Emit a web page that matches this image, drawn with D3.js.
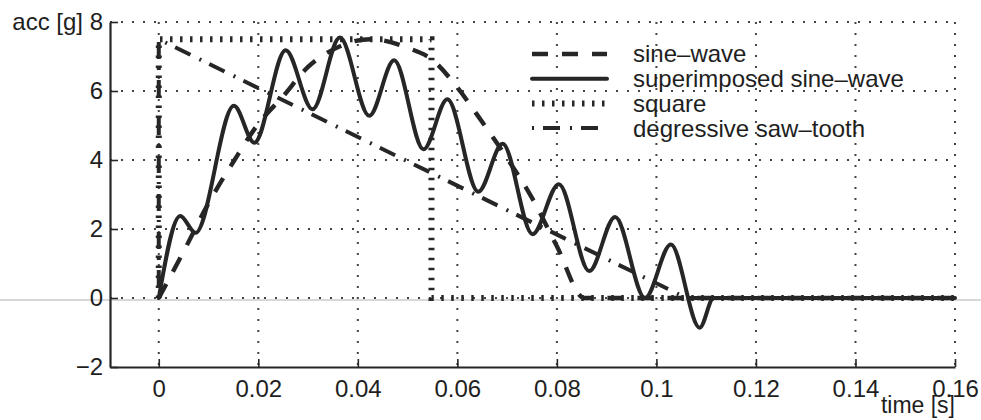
<!DOCTYPE html>
<html>
<head>
<meta charset="utf-8">
<script src="https://cdn.jsdelivr.net/npm/d3@7"></script>
<style>
  body { margin: 0; background: white; }
</style>
</head>
<body>
<div id="chart"></div>
<script>
// ticks
const xTicks = [0, 0.02, 0.04, 0.06, 0.08, 0.1, 0.12, 0.14, 0.16];
const xTickLabels = ["0", "0.02", "0.04", "0.06", "0.08", "0.1", "0.12", "0.14", "0.16"];
const yTicks = [-2, 0, 2, 4, 6, 8];
const yTickLabels = ["\u22122", "0", "2", "4", "6", "8"];

// series (time in s, acc in g)
const sineTime = [0, 0.005, 0.01, 0.015, 0.02, 0.025, 0.03, 0.035, 0.0425, 0.05, 0.055, 0.06, 0.065, 0.07, 0.075, 0.08, 0.0855, 0.16];
const sineAcc  = [0, 1.35, 2.75, 3.95, 5.05, 5.85, 6.7, 7.2, 7.5, 7.25, 6.9, 6.1, 5.1, 4.05, 2.9, 1.5, 0, 0];

const superTime = [0, 0.0043, 0.0074, 0.0151, 0.0192, 0.0255, 0.0309, 0.0364, 0.0423, 0.0473, 0.0532, 0.058, 0.0642, 0.0691, 0.0751, 0.0804, 0.0865, 0.0917, 0.0977, 0.1029, 0.1087, 0.1115, 0.16];
const superAcc  = [0, 2.38, 1.89, 5.57, 4.5, 7.18, 5.47, 7.55, 5.28, 6.89, 4.31, 5.76, 3.08, 4.47, 1.85, 3.3, 0.78, 2.35, 0, 1.55, -0.86, 0, 0];

const squareTime = [0, 0, 0.0548, 0.0548, 0.16];
const squareAcc  = [0, 7.5, 7.5, 0, 0];

const sawTime = [0, 0, 0.106, 0.16];
const sawAcc  = [0, 7.5, 0, 0];

const legendLabels = ["sine\u2013wave", "superimposed sine\u2013wave", "square", "degressive saw\u2013tooth"];

const width = 981, height = 420;
const font = "'Liberation Sans', Arial, Helvetica, sans-serif";
const ink = "#262626";
const textInk = "#1e1e1e";

const svg = d3.select("#chart").append("svg")
  .attr("width", width)
  .attr("height", height)
  .style("background", "white");

const x = d3.scaleLinear().domain([-0.0098, 0.16]).range([110, 955]);
const y = d3.scaleLinear().domain([-2, 8]).range([367, 22]);

// faint scan line along zero
svg.append("line")
  .attr("x1", 0).attr("x2", width)
  .attr("y1", y(0) + 2).attr("y2", y(0) + 2)
  .attr("stroke", "#d8d8d8").attr("stroke-width", 2);

// dotted grid
const grid = svg.append("g").attr("stroke", "#444").attr("stroke-width", 2).attr("stroke-dasharray", "2,9");
grid.selectAll(".gx").data(xTicks).enter().append("line")
  .attr("x1", d => x(d)).attr("x2", d => x(d))
  .attr("y1", y(8)).attr("y2", y(-2));
grid.selectAll(".gy").data(yTicks.filter(d => d > -2)).enter().append("line")
  .attr("x1", x.range()[0]).attr("x2", x.range()[1])
  .attr("y1", d => y(d)).attr("y2", d => y(d));

function pts(ts, vs) { return ts.map((t, i) => [t, vs[i]]); }

const smooth = d3.line().x(d => x(d[0])).y(d => y(d[1])).curve(d3.curveMonotoneX);
const straight = d3.line().x(d => x(d[0])).y(d => y(d[1]));

const styles = [
  { dash: "16,14", w: 4.4 },
  { dash: null, w: 4 },
  { dash: "2.5,7.5", w: 6 },
  { dash: "2,9,17,10", w: 4 }
];

svg.append("path").attr("d", straight(pts(squareTime, squareAcc)))
  .attr("fill", "none").attr("stroke", ink).attr("stroke-width", styles[2].w).attr("stroke-dasharray", styles[2].dash);
svg.append("path").attr("d", straight(pts(sawTime, sawAcc)))
  .attr("fill", "none").attr("stroke", ink).attr("stroke-width", styles[3].w).attr("stroke-dasharray", styles[3].dash);
svg.append("path").attr("d", smooth(pts(sineTime, sineAcc)))
  .attr("fill", "none").attr("stroke", ink).attr("stroke-width", styles[0].w).attr("stroke-dasharray", styles[0].dash);
svg.append("path").attr("d", smooth(pts(superTime, superAcc)))
  .attr("fill", "none").attr("stroke", ink).attr("stroke-width", styles[1].w)
  .attr("stroke-linejoin", "round").attr("stroke-linecap", "round");

// axes
const xAxis = svg.append("g")
  .attr("transform", `translate(0,${y(-2)})`)
  .call(d3.axisBottom(x).tickValues(xTicks).tickSize(-8).tickSizeOuter(0).tickPadding(13)
    .tickFormat((d, i) => xTickLabels[i]));
const yAxis = svg.append("g")
  .attr("transform", `translate(${x.range()[0]},0)`)
  .call(d3.axisLeft(y).tickValues(yTicks).tickSize(-8).tickSizeOuter(0).tickPadding(7)
    .tickFormat((d, i) => yTickLabels[i]));

[xAxis, yAxis].forEach(g => {
  g.attr("font-family", font).attr("font-size", 24);
  g.select(".domain").attr("stroke", ink).attr("stroke-width", 2.2);
  g.selectAll(".tick line").attr("stroke", ink).attr("stroke-width", 1.6);
  g.selectAll(".tick text").attr("fill", textInk);
});

svg.append("text")
  .attr("x", 83).attr("y", y(8)).attr("dy", "0.32em")
  .attr("text-anchor", "end")
  .attr("font-family", font).attr("font-size", 24).attr("fill", textInk)
  .text("acc [g]");

svg.append("text")
  .attr("x", 955).attr("y", 413)
  .attr("text-anchor", "end")
  .attr("font-family", font).attr("font-size", 23).attr("fill", textInk)
  .text("time [s]");

// legend
const legend = svg.append("g");
legendLabels.forEach((label, i) => {
  const ly = 54 + i * 24.7;
  legend.append("line")
    .attr("x1", 532).attr("x2", 607).attr("y1", ly).attr("y2", ly)
    .attr("stroke", ink).attr("stroke-width", styles[i].w)
    .attr("stroke-dasharray", styles[i].dash)
    .attr("stroke-linecap", i === 1 ? "round" : "butt");
  legend.append("text")
    .attr("x", 633).attr("y", ly).attr("dy", "0.35em")
    .attr("font-family", font).attr("font-size", 24).attr("fill", textInk)
    .text(label);
});
</script>
</body>
</html>
